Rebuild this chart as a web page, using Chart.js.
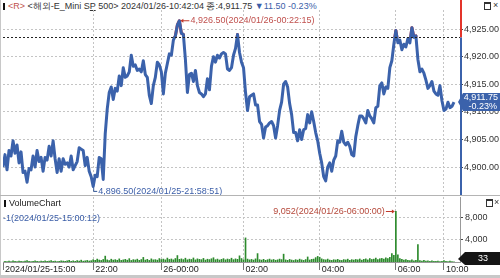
<!DOCTYPE html>
<html>
<head>
<meta charset="utf-8">
<script src="https://cdn.jsdelivr.net/npm/chart.js@4.4.1/dist/chart.umd.min.js"></script>
<style>
  body { margin: 0; background: #fff; width: 500px; height: 278px; overflow: hidden; position: relative;
         font-family: "Liberation Sans", Arial, sans-serif; }
  canvas { position: absolute; left: 0; }
  #priceCanvas { top: 0; }
  #volCanvas { top: 196px; }
  .hdr { position: absolute; left: 3px; top: 1px; font-size: 9px; line-height: 10px; color: #333; white-space: nowrap; }
  .mark { display: inline-block; width: 2px; height: 7px; background: #111; margin-right: 3px; vertical-align: -1px; }
  .red { color: #c0504d; }
  .blu { color: #3b5ea8; }
  .volTitle { position: absolute; left: 4px; top: 198px; font-size: 9px; line-height: 10px; color: #222; }
  .sep { position: absolute; left: 0; width: 500px; height: 1px; background: #b4b4b4; }
  .frameL { position: absolute; left: 0; top: 0; width: 1px; height: 278px; background: #c8c8c8; }
  .bottomBar { position: absolute; left: 0; top: 275px; width: 500px; height: 3px; background: #c8c8c8; }
  .ico { position: absolute; width: 5px; height: 5px; border: 1px solid #333; border-top-width: 2px; }
  .x { position: absolute; font-size: 9px; line-height: 9px; color: #333; }
</style>
</head>
<body>
<div class="frameL"></div>
<div class="hdr"><span class="mark"></span><span class="red">&lt;R&gt;</span> &lt;해외-E_Mini S<u>P</u> 500&gt; 2024/01/26-10:42:04 종:4,911.75 <span class="blu">&#9660;11.50 -0.23%</span></div>
<div class="ico" style="left:484px;top:2px"></div><div class="x" style="left:493px;top:1px">×</div>
<canvas id="priceCanvas" width="500" height="195"></canvas>
<div class="sep" style="top:195px"></div>
<canvas id="volCanvas" width="500" height="79"></canvas>
<div class="volTitle"><span class="mark"></span>VolumeChart</div>
<div class="ico" style="left:486px;top:199px"></div><div class="x" style="left:494px;top:198px">×</div>
<div class="bottomBar"></div>
<script>
// bar index of each time label on the x axis
const timeIdx = [0, 45, 79, 120, 158, 196, 220];
const timeLabels = ['2024/01/25-15:00', '22:00', '26-00:00', '02:00', '04:00', '06:00', '10:00'];

const priceTicks = [4900, 4905, 4910, 4915, 4920, 4925];
const volTicks = [4000, 8000];
const refLine = 4923.5;

const highTime = '2024/01/26-00:22:15';
const lowTime = '2024/01/25-21:58:51';
const volMaxTime = '2024/01/26-06:00:00';
const volMinTime = '2024/01/25-15:00:12';
const lastChange = '-0.23%';

// last price per bar
const priceVals = [
  4900.0, 4902.25, 4899.5, 4903.0, 4902.0, 4904.75, 4902.5, 4904.0, 4900.75, 4902.75,
  4899.0, 4899.25, 4897.25, 4899.75, 4899.5, 4902.0, 4900.0, 4903.0, 4901.0, 4901.75,
  4899.25, 4901.75, 4901.25, 4903.75, 4902.0, 4904.75, 4901.5, 4899.0, 4901.5, 4899.25,
  4901.5, 4900.5, 4900.75, 4900.0, 4902.0, 4899.5, 4900.25, 4901.0, 4903.5, 4903.25,
  4903.0, 4900.25, 4901.75, 4899.25, 4898.25, 4896.5, 4898.5, 4898.25, 4901.75, 4901.5,
  4897.75, 4906.0, 4910.5, 4913.5, 4914.5, 4912.25, 4914.25, 4913.75, 4916.5, 4914.75,
  4918.0, 4916.25, 4916.5, 4917.25, 4920.25, 4918.25, 4918.5, 4917.5, 4917.75, 4917.25,
  4919.25, 4916.75, 4916.25, 4913.0, 4911.5, 4914.75, 4916.25, 4919.0, 4918.5, 4917.25,
  4913.25, 4917.0, 4918.75, 4920.5, 4920.25, 4923.0, 4923.75, 4925.75, 4926.5, 4924.25,
  4924.0, 4919.5, 4913.5, 4916.75, 4917.0, 4915.5, 4917.5, 4914.75, 4913.5, 4913.25,
  4912.75, 4913.25, 4916.0, 4914.0, 4918.25, 4920.0, 4919.0, 4920.25, 4919.75, 4920.5,
  4920.75, 4920.5, 4917.75, 4917.5, 4918.0, 4920.25, 4921.5, 4924.0, 4920.75, 4919.0,
  4918.0, 4913.5, 4910.25, 4912.75, 4913.0, 4913.25, 4911.25, 4911.25, 4908.25, 4907.75,
  4905.25, 4907.25, 4907.5, 4908.0, 4908.25, 4907.5, 4905.25, 4907.5, 4910.25, 4911.75,
  4915.0, 4915.5, 4914.5, 4911.5, 4909.5, 4906.25, 4906.25, 4904.75, 4906.75, 4905.0,
  4906.75, 4907.0, 4909.5, 4908.0, 4910.0, 4908.25, 4906.25, 4904.75, 4902.5, 4900.75,
  4898.25, 4897.5, 4900.0, 4900.75, 4899.25, 4901.25, 4902.0, 4904.75, 4904.5, 4906.5,
  4904.5, 4904.0, 4904.5, 4903.75, 4902.25, 4902.0, 4905.5, 4907.5, 4909.25, 4909.25,
  4908.75, 4908.0, 4910.25, 4909.25, 4908.75, 4908.0, 4910.75, 4911.0, 4914.75, 4915.25,
  4913.25, 4914.5, 4914.25, 4918.0, 4919.25, 4922.25, 4924.75, 4922.5, 4923.0, 4921.25,
  4922.25, 4921.75, 4923.25, 4922.5, 4925.25, 4923.5, 4923.75, 4919.5, 4917.25, 4917.75,
  4917.0, 4915.75, 4914.25, 4914.75, 4915.5, 4913.75, 4913.25, 4913.0, 4914.75, 4912.0,
  4910.25, 4910.5, 4911.75, 4910.75, 4911.0, 4911.75
];

// contracts per bar
const volVals = [
  1, 120, 80, 150, 90, 200, 110, 70, 180, 130,
  90, 160, 250, 120, 80, 140, 200, 110, 90, 170,
  130, 220, 100, 150, 260, 120, 180, 90, 140, 230,
  160, 110, 200, 300, 140, 190, 120, 250, 170, 330,
  150, 210, 280, 180, 240, 420, 300, 520, 350, 280,
  450, 1050, 380, 260, 500, 340, 420, 310, 560, 290,
  380, 470, 330, 600, 280, 420, 360, 510, 300, 440,
  820, 350, 470, 290, 560, 380, 420, 330, 610, 450,
  520, 380, 700, 460, 540, 390, 620, 1150, 480, 560,
  430, 680, 390, 510, 450, 720, 380, 560, 470, 420,
  640, 350, 500, 430, 580, 760, 410, 520, 360, 470,
  600, 390, 530, 450, 680, 420, 560, 480, 1100, 620,
  400, 4300, 520, 380, 460, 350, 560, 1500, 420, 340,
  480, 300, 410, 520, 360, 450, 310, 390, 520, 430,
  1400, 380, 300, 460, 350, 270, 420, 330, 510, 380,
  290, 440, 900, 360, 470, 520, 780, 1000, 850, 560,
  430, 380, 520, 340, 290, 410, 360, 470, 320, 280,
  430, 370, 510, 300, 420, 350, 460, 390, 540, 330,
  470, 560, 380, 620, 450, 510, 700, 430, 580, 640,
  520, 760, 600, 850, 1500, 1200, 9052, 1300, 620, 480,
  350, 410, 300, 260, 380, 220, 310, 3100, 240, 180,
  280, 150, 210, 120, 190, 140, 100, 170, 90, 130,
  260, 110, 80, 150, 60, 33
];

const BLUE = '#3b62ab';
const RED = '#e3342a';
const FONT = { family: '"Liberation Sans", Arial, sans-serif', size: 9 };
const GRID = '#c4c4c4';

const fmt2 = v => v.toLocaleString('en-US', { minimumFractionDigits: 2, maximumFractionDigits: 2 });
const fmt0 = v => v.toLocaleString('en-US');

function noPad(s) {
  s.paddingTop = 0; s.paddingBottom = 0; s.paddingLeft = 0; s.paddingRight = 0;
}

function xScale(showLabels) {
  return {
    type: 'linear', min: 0, max: 228, offset: false,
    afterBuildTicks: s => { s.ticks = timeIdx.map(v => ({ value: v })); },
    afterFit: s => { s.height = showLabels ? 13 : 0; noPad(s); },
    ticks: {
      display: showLabels, autoSkip: false, maxRotation: 0, align: 'start',
      labelOffset: 2, padding: -6, color: '#222', font: FONT,
      callback: v => timeLabels[timeIdx.indexOf(v)]
    },
    grid: {
      offset: false,
      color: c => (c.tick && c.tick.value === 0) ? 'rgba(0,0,0,0)' : GRID,
      drawTicks: showLabels, tickLength: 8, tickColor: '#777'
    },
    border: { display: showLabels, color: '#999', dash: [2, 2] }
  };
}

function arrow(ctx, x, y, dir) {
  ctx.beginPath();
  ctx.moveTo(x, y);
  ctx.lineTo(x + 3 * dir, y - 2);
  ctx.lineTo(x + 3 * dir, y + 2);
  ctx.closePath();
  ctx.fill();
}

// the red copy of the price line only shows above the reference line
const clipAbove = {
  id: 'clipAbove',
  beforeDatasetDraw(chart, args) {
    if (args.index !== 1) return;
    const { ctx, chartArea: a, scales: { y } } = chart;
    const ry = y.getPixelForValue(refLine);
    ctx.save();
    ctx.beginPath();
    ctx.rect(a.left, 0, a.right - a.left, ry);
    ctx.clip();
  },
  afterDatasetDraw(chart, args) {
    if (args.index === 1) chart.ctx.restore();
  }
};

const priceDeco = {
  id: 'priceDeco',
  afterDatasetsDraw(chart) {
    const { ctx, chartArea: a, scales: { x, y } } = chart;
    const ry = Math.round(y.getPixelForValue(refLine)) + 0.5;
    ctx.save();
    ctx.strokeStyle = '#222';
    ctx.lineWidth = 1;
    ctx.setLineDash([2, 2]);
    ctx.beginPath(); ctx.moveTo(a.left, ry); ctx.lineTo(a.right, ry); ctx.stroke();
    ctx.setLineDash([]);

    // right edge range bar
    ctx.lineWidth = 2;
    ctx.strokeStyle = RED;
    ctx.beginPath(); ctx.moveTo(a.right + 1, 0); ctx.lineTo(a.right + 1, ry); ctx.stroke();
    ctx.strokeStyle = BLUE;
    ctx.beginPath(); ctx.moveTo(a.right + 1, ry); ctx.lineTo(a.right + 1, chart.height); ctx.stroke();

    ctx.font = '9px "Liberation Sans", Arial, sans-serif';
    ctx.textBaseline = 'middle';
    ctx.lineWidth = 1;

    // high
    const hiV = Math.max(...priceVals);
    const hiI = priceVals.indexOf(hiV);
    const hx = x.getPixelForValue(hiI), hy = y.getPixelForValue(hiV);
    ctx.strokeStyle = '#c0392b'; ctx.fillStyle = '#c0392b';
    ctx.beginPath(); ctx.moveTo(hx + 2, hy); ctx.lineTo(hx + 10, hy); ctx.stroke();
    arrow(ctx, hx + 1, hy, 1);
    ctx.fillStyle = '#c0504d';
    ctx.fillText(fmt2(hiV) + '(' + highTime + ')', hx + 11, hy);

    // low
    const loV = Math.min(...priceVals);
    const loI = priceVals.indexOf(loV);
    const lx = x.getPixelForValue(loI), ly = y.getPixelForValue(loV);
    ctx.strokeStyle = '#2f5597'; ctx.fillStyle = '#2f5597';
    ctx.beginPath(); ctx.moveTo(lx + 0.5, ly + 1); ctx.lineTo(lx + 0.5, ly + 5); ctx.lineTo(lx + 4, ly + 5); ctx.stroke();
    ctx.fillStyle = '#3b5ea8';
    ctx.fillText(fmt2(loV) + '(' + lowTime + ')', lx + 5, ly + 5);

    // last price box
    const last = priceVals[priceVals.length - 1];
    const py = Math.round(y.getPixelForValue(last));
    ctx.fillStyle = BLUE;
    ctx.beginPath();
    ctx.moveTo(a.right - 2, py);
    ctx.lineTo(a.right + 3, py - 9);
    ctx.lineTo(chart.width, py - 9);
    ctx.lineTo(chart.width, py + 9);
    ctx.lineTo(a.right + 3, py + 9);
    ctx.closePath();
    ctx.fill();
    ctx.fillStyle = '#fff';
    ctx.textAlign = 'right';
    ctx.fillText(fmt2(last), chart.width - 2, py - 4);
    ctx.fillText(lastChange, chart.width - 3, py + 4.5);
    ctx.restore();
  }
};

const pricePoints = priceVals.map((v, i) => ({ x: i, y: v }));

new Chart(document.getElementById('priceCanvas'), {
  type: 'line',
  data: {
    datasets: [
      { data: pricePoints, borderColor: BLUE, borderWidth: 3, borderJoinStyle: 'round', pointRadius: 0, tension: 0 },
      { data: pricePoints, borderColor: RED, borderWidth: 3, borderJoinStyle: 'round', pointRadius: 0, tension: 0 }
    ]
  },
  options: {
    responsive: false,
    animation: false,
    devicePixelRatio: 1,
    layout: { padding: { top: 10, left: 3, bottom: 2, right: 0 } },
    plugins: { legend: { display: false }, tooltip: { enabled: false } },
    scales: {
      x: xScale(false),
      y: {
        position: 'right', min: 4895.3, max: 4928.45,
        afterBuildTicks: s => { s.ticks = priceTicks.map(v => ({ value: v })); },
        afterFit: s => { s.width = 40; noPad(s); },
        ticks: { color: '#333', font: FONT, padding: 1, callback: v => fmt2(v) },
        grid: { color: GRID, tickLength: 3, tickColor: '#444' },
        border: { display: false, dash: [2, 2] }
      }
    }
  },
  plugins: [clipAbove, priceDeco]
});

const volDeco = {
  id: 'volDeco',
  afterDatasetsDraw(chart) {
    const { ctx, chartArea: a, scales: { x, y } } = chart;
    ctx.save();
    ctx.font = '9px "Liberation Sans", Arial, sans-serif';
    ctx.textBaseline = 'middle';

    // max volume
    const mV = Math.max(...volVals);
    const mI = volVals.indexOf(mV);
    const mx = x.getPixelForValue(mI), my = Math.round(y.getPixelForValue(mV)) + 0.5;
    ctx.strokeStyle = '#c0392b'; ctx.fillStyle = '#c0392b'; ctx.lineWidth = 1;
    ctx.beginPath(); ctx.moveTo(mx - 10, my); ctx.lineTo(mx - 3, my); ctx.stroke();
    arrow(ctx, mx - 1, my, -1);
    ctx.fillStyle = '#b5483a';
    ctx.textAlign = 'right';
    ctx.fillText(fmt0(mV) + '(' + volMaxTime + ')', mx - 11, my);

    // min volume
    const nV = Math.min(...volVals);
    ctx.textAlign = 'left';
    ctx.fillStyle = '#3b5ea8';
    ctx.fillText('-' + fmt0(nV) + '(' + volMinTime + ')', a.left, a.top + 22);

    // last volume box
    const last = volVals[volVals.length - 1];
    const vy = Math.min(Math.round(y.getPixelForValue(last)), a.bottom - 3);
    ctx.fillStyle = '#151515';
    ctx.beginPath();
    ctx.moveTo(a.right - 2, vy);
    ctx.lineTo(a.right + 5, vy - 7);
    ctx.lineTo(chart.width, vy - 7);
    ctx.lineTo(chart.width, vy + 6);
    ctx.lineTo(a.right + 5, vy + 6);
    ctx.closePath();
    ctx.fill();
    ctx.fillStyle = '#fff';
    ctx.textAlign = 'center';
    ctx.fillText(fmt0(last), 483, vy);
    ctx.restore();
  }
};

new Chart(document.getElementById('volCanvas'), {
  type: 'bar',
  data: {
    datasets: [{
      data: volVals.map((v, i) => ({ x: i, y: v })),
      backgroundColor: '#2c8a2c',
      barThickness: 1
    }]
  },
  options: {
    responsive: false,
    animation: false,
    devicePixelRatio: 1,
    layout: { padding: { top: 1, left: 3, bottom: 0, right: 0 } },
    plugins: { legend: { display: false }, tooltip: { enabled: false } },
    scales: {
      x: xScale(true),
      y: {
        position: 'right', min: 0, max: 11600,
        afterBuildTicks: s => { s.ticks = volTicks.map(v => ({ value: v })); },
        afterFit: s => { s.width = 40; noPad(s); },
        ticks: { color: '#333', font: FONT, padding: 2, callback: v => fmt0(v) },
        grid: { color: GRID, tickLength: 3, tickColor: '#444' },
        border: { display: true, color: '#999', dash: [2, 2] }
      }
    }
  },
  plugins: [volDeco]
});
</script>
</body>
</html>
